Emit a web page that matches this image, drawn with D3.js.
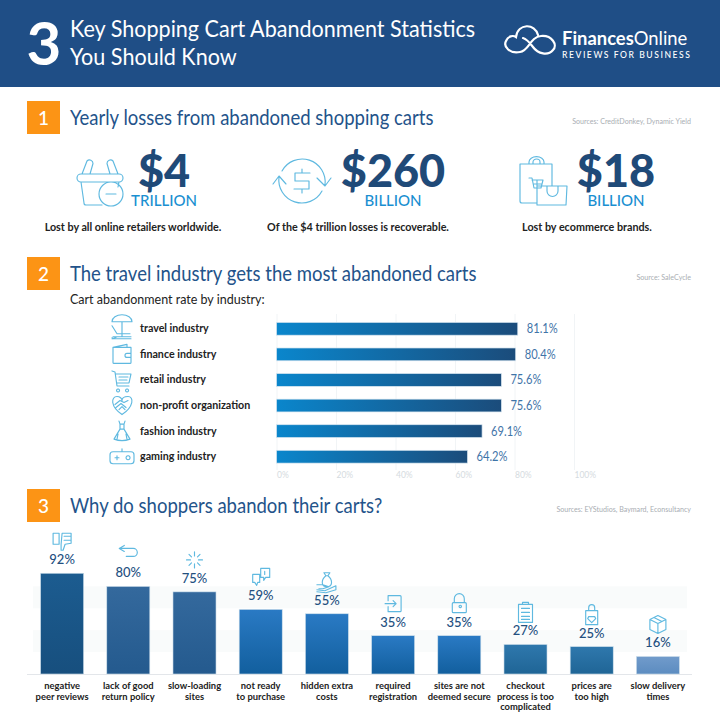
<!DOCTYPE html>
<html><head><meta charset="utf-8">
<script src="https://cdn.jsdelivr.net/npm/d3@7"></script>
<style>html,body{margin:0;padding:0;background:#fff}svg{display:block}text{font-family:Lato,"Open Sans",sans-serif}</style>
</head><body><div id="chart"></div>
<script>
const sectionTitles = ["Yearly losses from abandoned shopping carts","The travel industry gets the most abandoned carts","Why do shoppers abandon their carts?"];
const sectionSources = ["Sources: CreditDonkey, Dynamic Yield","Source: SaleCycle","Sources: EYStudios, Baymard, Econsultancy"];
const statValues = ["$4","$260","$18"];
const statUnits = ["TRILLION","BILLION","BILLION"];
const statCaptions = ["Lost by all online retailers worldwide.","Of the $4 trillion losses is recoverable.","Lost by ecommerce brands."];
const industries = ["travel industry","finance industry","retail industry","non-profit organization","fashion industry","gaming industry"];
const industryRates = [81.1,80.4,75.6,75.6,69.1,64.2];
const rateTicks = [0,20,40,60,80,100];
const reasons = [["negative","peer reviews"],["lack of good","return policy"],["slow-loading","sites"],["not ready","to purchase"],["hidden extra","costs"],["required","registration"],["sites are not","deemed secure"],["checkout","process is too","complicated"],["prices are","too high"],["slow delivery","times"]];
const reasonRates = [92,80,75,59,55,35,35,27,25,16];
const reasonTops = ["#1c5c90","#34699d","#34699d","#2a7ac4","#2a7ac4","#2a7ac4","#2a7ac4","#2f78ad","#2f78ad","#719bcb"];
const reasonBottoms = ["#174f7e","#245a8e","#245a8e","#125f9e","#125f9e","#125f9e","#125f9e","#1f6596","#1f6596","#5c8cc0"];

const ICONS = {
 basket:"M-19,-7H19a4,4 0 0 1 0,8H-19a4,4 0 0 1 0,-8zM-18,-7L-13,-20a3.5,3.5 0 0 1 6,2.5L-10,-7M18,-7L13,-20a3.5,3.5 0 0 0 -6,2.5L10,-7M-19,1L-16,22a2,2 0 0 0 2,2H2M19,1L18,6M-1,13a12,12 0 1 0 24,0a12,12 0 1 0 -24,0M6,13H16",
 cycle:"M-20,-10A23,23 0 0 1 23,4M15,-3L23,5L29,-3M20,10A23,23 0 0 1 -23,-4M-29,3L-23,-5L-16,3M8,-8H-7V0H7V8H-8M0,-12V-8M0,8V12",
 bags:"M-24,-17H8V5M-24,-17V20a2,2 0 0 0 2,2H-7M-15,-17V-19a7,5 0 0 1 15,0V-17M-11,-17V-19a3.5,3 0 0 1 7,0V-17M-15,-3H-12L-10,7H-3L-1,-1H-12M-10,3H-2M-7,-1V7M-7,5H23L22,24H-7zM3,5V10a5,5 0 0 0 11,0V5",
 chair:"M-10,-7a10,7 0 0 1 20,0zM0,-7V8M-9,8H9M-5,8L-9,10M-10,-3L-5,5H8M-10,9L-8,10H9M-10,10L8,10",
 wallet:"M-9,-7H9V8a1,1 0 0 1 -1,1H-8a1,1 0 0 1 -1,-1zM-9,-7L5,-10V-7M9,-1H5a2,2 0 0 0 0,4H9",
 cart:"M-10,-9L-7,-8L-5,6H7M-6,-6H9L7,3H-5M-3,-3H6M-3,0H5M-4,9a1.5,1.5 0 1 0 .1,0M5,9a1.5,1.5 0 1 0 .1,0",
 heart:"M0,9C-12,1 -11,-9 -5,-9C-2,-9 0,-7 0,-5C0,-7 2,-9 6,-9C12,-9 12,1 0,9zM-7,-1L-2,-5L2,-3L6,-5M-6,2L-1,-2L4,2M-3,4L0,1L3,4",
 dress:"M-3,-10L-2,-7L2,-7L3,-10M-2,-7L-2,-2H2L2,-7M-2,-2L-8,8Q0,11 8,8L2,-2M-4,3L-5,8M4,3L5,8",
 pad:"M-9,-5H9a3,3 0 0 1 3,3V4a3,3 0 0 1 -3,3H-9a3,3 0 0 1 -3,-3V-2a3,3 0 0 1 3,-3zM-7,1H-3M-5,-1V3M0,-5V-8M6,-1a2,2 0 1 0 .1,0",
 thumb:"M-9,-8H-3V3H-9zM0,-8H9V2L3,3L1,9L-1,9V3L0,-8M2,-5H9M2,-1H9",
 back:"M-3,-6H-9L-4,-9M-9,-6L-4,-3M-8,-6H5a4,4 0 0 1 0,8H-2M-8,-6H-3",
 spin:"M0,-8V-4M5.5,-5.5L3,-3M8,0H4M5.5,5.5L3,3M0,8V4M-5.5,5.5L-3,3M-8,0H-4M-5.5,-5.5L-3,-3",
 chat:"M0,-9H9V0H5L3,3V0H0zM-8,-3H-1V5H-3L-4,8L-6,5H-8zM4,-6V-3",
 money:"M-3,-9H3L1,-6H-1zM-1,-6C-6,-2 -6,5 0,5C6,5 6,-2 1,-6M-10,3L-4,3L2,5L-4,7H-8M-10,8L-2,9L9,4L9,8L-1,11L-10,10",
 signin:"M-5,-8H7a1,1 0 0 1 1,1V7a1,1 0 0 1 -1,1H-5M-5,-8V-3M-5,3V8M-8,0H3M0,-3L3,0L0,3",
 lock:"M-6,-1H6a1,1 0 0 1 1,1V8a1,1 0 0 1 -1,1H-6a1,1 0 0 1 -1,-1V0a1,1 0 0 1 1,-1zM-5,-1V-5a5,5 0 0 1 10,0V-1M1,4a1.2,1.2 0 1 0 -.1,0",
 clip:"M-7,-8H7V10H-7zM-3,-8V-10H3V-8M-4,-4H4M-4,0H4M-4,4H4M-4,7H4",
 gem:"M-6,-4H6V10H-6zM-3,-4V-7a3,3 0 0 1 6,0V-4M-3,2H3L4,4L0,8L-4,4z",
 box:"M0,-9L8,-5V5L0,9L-8,5V-5zM-8,-5L0,-1L8,-5M0,-1V9M-4,-7L4,-3"
};
const heroIcons = ["basket","cycle","bags"];
const industryIcons = ["chair","wallet","cart","heart","dress","pad"];
const reasonIcons = ["thumb","back","spin","chat","money","signin","lock","clip","gem","box"];

const svg = d3.select("#chart").append("svg").attr("width",720).attr("height",720).attr("viewBox","0 0 720 720");
const defs = svg.append("defs");
const hGrad = defs.append("linearGradient").attr("id","hbar");
hGrad.append("stop").attr("offset",0).attr("stop-color","#0a86cc");
hGrad.append("stop").attr("offset",1).attr("stop-color","#1b4c7b");
reasons.forEach((_,i)=>{
  const g=defs.append("linearGradient").attr("id","vbar"+i).attr("x1",0).attr("x2",0).attr("y1",0).attr("y2",1);
  g.append("stop").attr("offset",0).attr("stop-color",reasonTops[i]);
  g.append("stop").attr("offset",1).attr("stop-color",reasonBottoms[i]);
});
const icon=(sel,name,x,y,s=1)=>sel.append("path").attr("d",ICONS[name]).attr("transform",`translate(${x},${y}) scale(${s})`)
  .attr("fill","none").attr("stroke","#5fb9e0").attr("stroke-width",1.15/s).attr("stroke-linejoin","round").attr("stroke-linecap","round");
const txt=(x,y,t,size,fill,weight=400,anchor="start")=>svg.append("text").attr("x",x).attr("y",y).text(t).attr("font-size",size).attr("fill",fill).attr("font-weight",weight).attr("text-anchor",anchor);
// the reference's type is horizontally condensed: squeeze a text by a ratio of its natural width
const squeeze=(sel,r)=>sel.each(function(){const w=this.getComputedTextLength();d3.select(this).attr("textLength",w*r).attr("lengthAdjust","spacingAndGlyphs");});

// header
svg.append("rect").attr("width",720).attr("height",87).attr("fill","#1f4e86");
txt(44,65,"3",60,"#fff",700,"middle");
squeeze(txt(70,37,"Key Shopping Cart Abandonment Statistics",23.4,"#fff"),.922);
squeeze(txt(70,65,"You Should Know",23.4,"#fff"),.922);
svg.append("path").attr("d","M520,52C510,54 503,47 506,41C508,36 513,35 516,37C518,23 535,23 538,35M520,52C529,51 530,37 541,36C552,35 558,45 553,50C548,56 538,54 533,47C530,43 527,39 523,38")
  .attr("fill","none").attr("stroke","#fff").attr("stroke-width",2.2).attr("stroke-linecap","round");
const logo=txt(562,45,"",18.4,"#fff",400);
logo.append("tspan").attr("font-weight",700).text("Finances");
logo.append("tspan").text("Online");
txt(562,58,"REVIEWS FOR BUSINESS",8.6,"#fff",500).attr("letter-spacing",1.55);

// section headers
const secY=[101,257,489];
const sec=svg.selectAll("g.sec").data(sectionTitles).join("g").attr("class","sec").attr("transform",(d,i)=>`translate(0,${secY[i]})`);
sec.append("rect").attr("x",27).attr("width",33).attr("height",33).attr("fill","#fc9415");
sec.append("text").attr("x",43.5).attr("y",23.5).attr("text-anchor","middle").attr("font-size",19).attr("font-weight",500).attr("fill","#fff").text((d,i)=>i+1);
squeeze(sec.append("text").attr("x",70).attr("y",24).attr("font-size",20.8).attr("fill","#23538a").text(d=>d),.89);
sec.append("text").attr("x",691).attr("y",23).attr("text-anchor","end").attr("font-size",7.1).attr("fill","#a9aeb3").text((d,i)=>sectionSources[i]);

// stats
const statX=[164,393,616], capX=[133,358,587], heroX=[100,302,544];
statValues.forEach((v,i)=>{
  txt(statX[i],187,v,45,"#1f4a78",900,"middle");
  txt(statX[i],205.5,statUnits[i],15,"#1a8fd1",500,"middle");
  txt(capX[i],231,statCaptions[i],10.75,"#222",700,"middle");
  icon(svg,heroIcons[i],heroX[i],181,1);
});

// horizontal bars
txt(70,304,"Cart abandonment rate by industry:",12.5,"#222");
const x=d3.scaleLinear().domain([0,100]).range([276.5,574]);
const yH=d3.scaleBand().domain(industries).range([316,469.5]).paddingInner(0.5).paddingOuter(0.25);
const ax=svg.append("g").attr("transform","translate(0,470)").call(d3.axisBottom(x).tickValues(rateTicks).tickFormat(d=>d+"%").tickSize(-156));
ax.select(".domain").remove();
ax.selectAll("line").attr("stroke","#f1f4f6");
ax.selectAll("text").attr("font-size",8.5).attr("fill","#d5dbe0").attr("text-anchor","start").attr("dy",0).attr("y",8).attr("font-family","Lato");
svg.selectAll("rect.h").data(industries).join("rect").attr("class","h").attr("x",x(0)).attr("y",d=>yH(d)).attr("height",yH.bandwidth())
  .attr("width",(d,i)=>x(industryRates[i])-x(0)).attr("fill","url(#hbar)").attr("stroke","#d7e6f0").attr("stroke-width",.7);
squeeze(svg.selectAll("text.v").data(industries).join("text").attr("class","v").attr("x",(d,i)=>x(industryRates[i])+9).attr("y",d=>yH(d)+yH.bandwidth()/2+4.5)
  .attr("font-size",12.4).attr("fill","#3f74a8").text((d,i)=>industryRates[i]+"%"),.9);
svg.selectAll("text.l").data(industries).join("text").attr("class","l").attr("x",140).attr("y",d=>yH(d)+yH.bandwidth()/2+3.5)
  .attr("font-size",10.7).attr("font-weight",700).attr("fill","#222").text(d=>d);
industries.forEach((d,i)=>icon(svg,industryIcons[i],122,yH(d)+yH.bandwidth()/2,1));

// vertical bars
const xV=d3.scaleBand().domain(d3.range(10)).range([29,691]).paddingInner(.35).paddingOuter(.175);
const yV=d3.scaleLinear().domain([0,100]).range([674,564.5]);
[[60,80],[20,40]].forEach(b=>svg.append("rect").attr("x",33).attr("width",654).attr("y",yV(b[1])).attr("height",yV(b[0])-yV(b[1])).attr("fill","#f9fbfb"));
svg.append("line").attr("x1",27).attr("x2",692).attr("y1",674.5).attr("y2",674.5).attr("stroke","#e3e6ea");
const col=svg.selectAll("g.col").data(reasonRates).join("g").attr("class","col");
col.append("rect").attr("x",(d,i)=>xV(i)).attr("width",xV.bandwidth()).attr("y",d=>yV(d)).attr("height",d=>yV(0)-yV(d))
  .attr("fill",(d,i)=>`url(#vbar${i})`).attr("stroke","#cfe0ec").attr("stroke-width",.6);
col.append("text").attr("x",(d,i)=>xV(i)+xV.bandwidth()/2).attr("y",d=>yV(d)-9).attr("text-anchor","middle").attr("font-size",13).attr("font-weight",500).attr("fill","#24507f").text(d=>d+"%");
reasonRates.forEach((d,i)=>{
  icon(svg,reasonIcons[i],xV(i)+xV.bandwidth()/2,yV(d)-32,1);
  reasons[i].forEach((t,j)=>txt(xV(i)+xV.bandwidth()/2,689+j*10.7,t,9.4,"#222",700,"middle"));
});
</script></body></html>
